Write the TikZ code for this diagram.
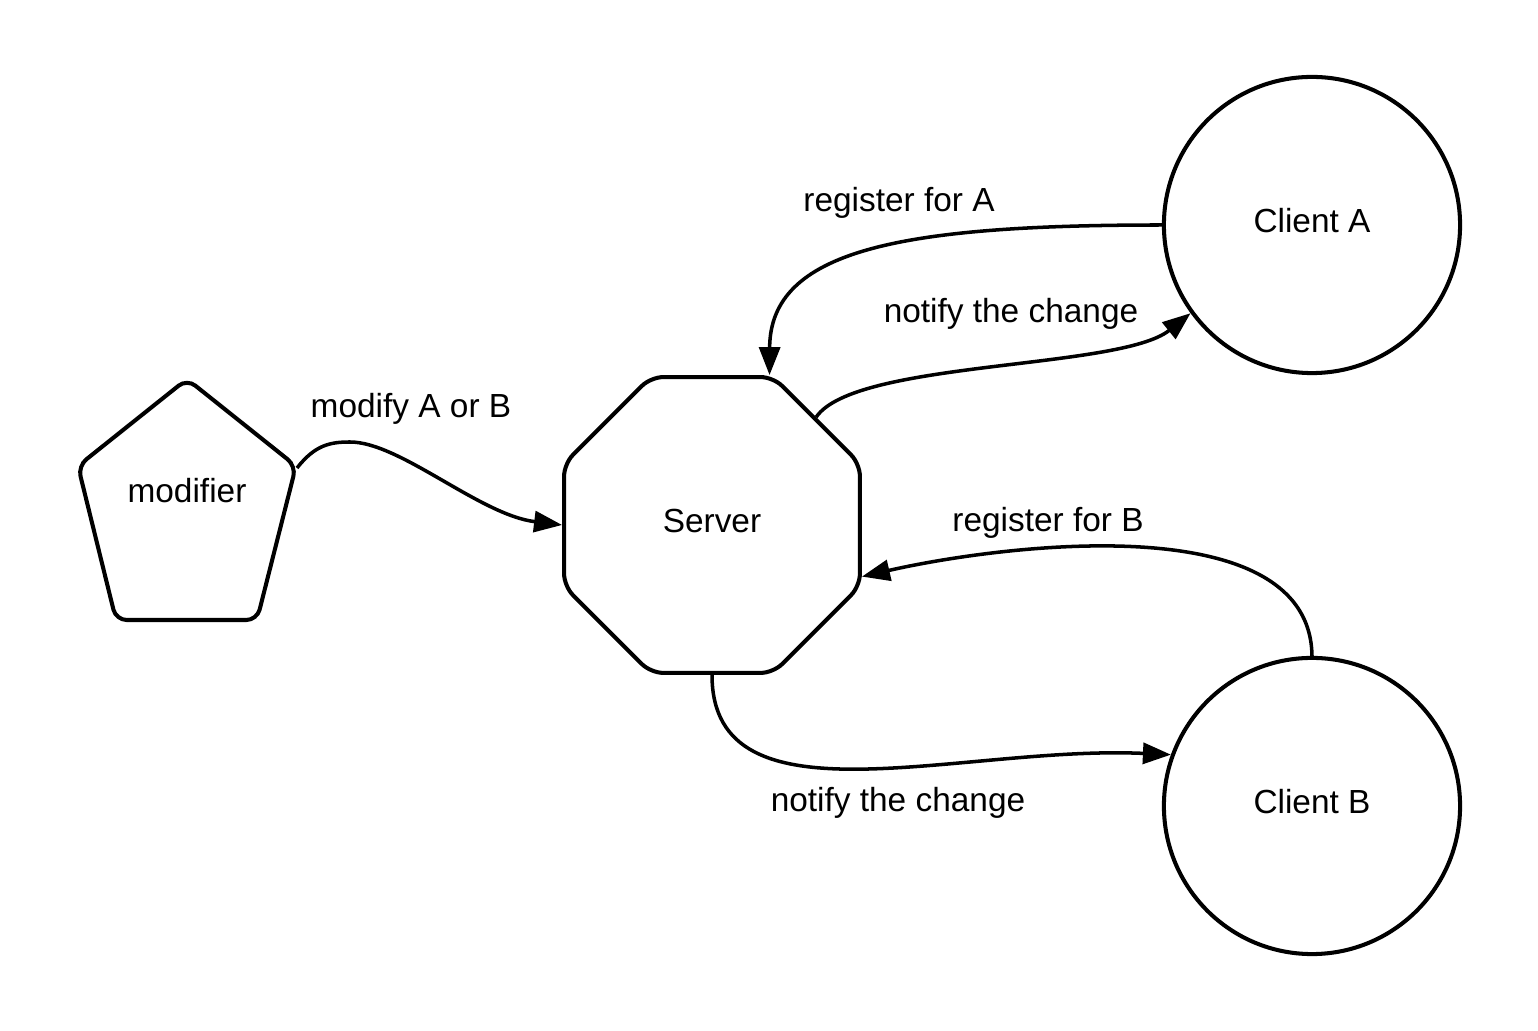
\documentclass[tikz,border=0pt]{standalone}
\usepackage{fontspec}
\setmainfont{Liberation Sans}
\usetikzlibrary{shapes.geometric,arrows.meta}

\begin{document}
\begin{tikzpicture}[x=0.01cm, y=-0.01cm,
  font=\fontsize{9.5pt}{11pt}\selectfont,
  txt/.style={inner sep=0pt, text height=0.16cm, text depth=0pt},
  unit/.style={txt, draw, line width=1.15pt},
  msg/.style={line width=1pt, -{Triangle[length=0.28cm, width=0.21cm]}},
  lbl/.style={anchor=base, inner sep=0pt}]

\fill[white] (0,0) rectangle (1538,1031);

% LEFT: the modifier (pentagon drawn by hand, a bit taller than regular)
\draw[line width=1.15pt, rounded corners=3pt]
  (186,620) -- (116,620) -- (78,466) -- (187,379) -- (296,466) -- (257,620) -- cycle;
\node[txt] (modifier) at (187,495) {modifier};
\coordinate (modout) at (297,468);

% MIDDLE: the server
\node[unit, regular polygon, regular polygon sides=8, minimum size=3.2cm,
      rounded corners=3.5pt] (server) at (712,525) {Server};

% RIGHT: the two clients
\node[unit, circle, minimum size=2.96cm] (clientA) at (1312,225) {Client A};
\node[unit, circle, minimum size=2.96cm] (clientB) at (1312,806) {Client B};

% messages
\draw[msg] (modout) .. controls (315,445) and (330,442) .. (350,442)
  .. controls (400,442) and (480,515) .. (server.west);
\draw[msg] (clientA.west) .. controls (900,225) and (770,250) .. (server.69);
\draw[msg] (server.46) .. controls (855,360) and (1120,370) .. (clientA.216);
\draw[msg] (clientB.north) .. controls (1310,505) and (1000,545) .. (server.-19);
\draw[msg] (server.south) .. controls (712,830) and (960,745) .. (clientB.160);

% labels
\node[lbl] (modLbl) at (411,418) {modify A or B};
\node[lbl] (regALbl) at (899,212) {register for A};
\node[lbl] (notALbl) at (1011,323) {notify the change};
\node[lbl] (regBLbl) at (1048,532) {register for B};
\node[lbl] (notBLbl) at (898,812) {notify the change};

\end{tikzpicture}
\end{document}
